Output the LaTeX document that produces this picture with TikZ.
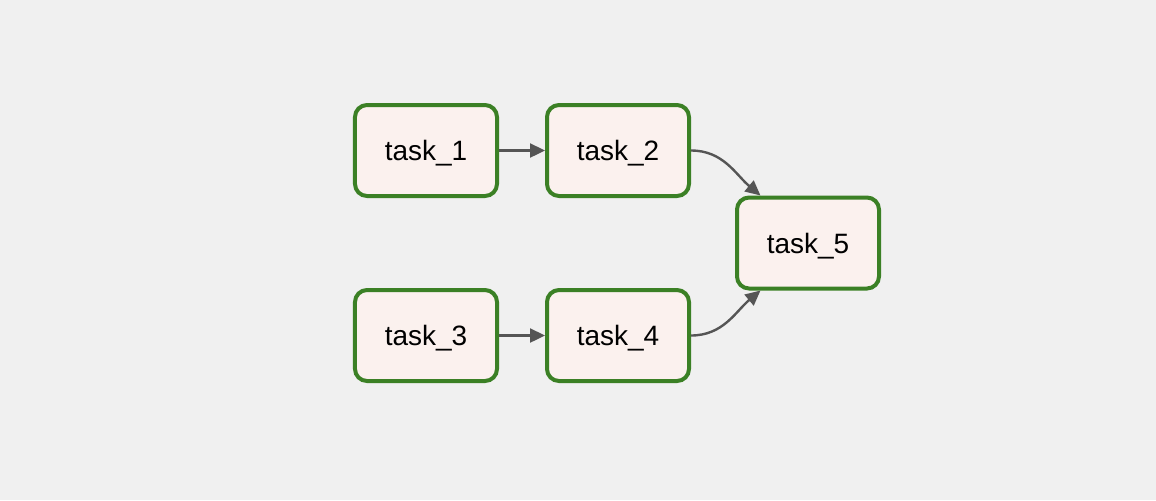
\documentclass[tikz,border=0pt]{standalone}
\usepackage{fontspec}
\setmainfont{Liberation Sans}
\usetikzlibrary{arrows.meta,positioning,calc}
\definecolor{bg}{HTML}{F0F0F0}
\definecolor{taskfill}{HTML}{FBF1EE}
\definecolor{taskline}{HTML}{3B8025}
\definecolor{edge}{HTML}{555555}
\begin{document}
\begin{tikzpicture}[font=\fontsize{14}{16}\selectfont,>={Triangle[length=7.5pt,width=7pt]},
  task/.style={draw=taskline,line width=2pt,rounded corners=6pt,fill=taskfill,minimum width=71pt,minimum height=45.5pt,inner sep=2pt,text height=13pt,text depth=3pt},
  dep/.style={->,draw=edge,line width=1.2pt}]
% page with margins
\fill[bg] (-213pt,-174.75pt) rectangle (365pt,75.25pt);
\useasboundingbox (-213pt,-174.75pt) rectangle (365pt,75.25pt);
\node[task] (t1) at (0,0) {task\_1};
\node[task,right=23pt of t1] (t2) {task\_2};
\node[task,below=45pt of t1] (t3) {task\_3};
\node[task,right=23pt of t3] (t4) {task\_4};
\coordinate (mid) at ($(t2.east)!0.5!(t4.east)$);
\node[task,right=22pt of mid] (t5) {task\_5};
\draw[dep] (t1) -- (t2);
\draw[dep] (t3) -- (t4);
\draw[dep] (t2.east) to[out=0,in=140] (t5.135);
\draw[dep] (t4.east) to[out=0,in=220] (t5.225);
\end{tikzpicture}
\end{document}
